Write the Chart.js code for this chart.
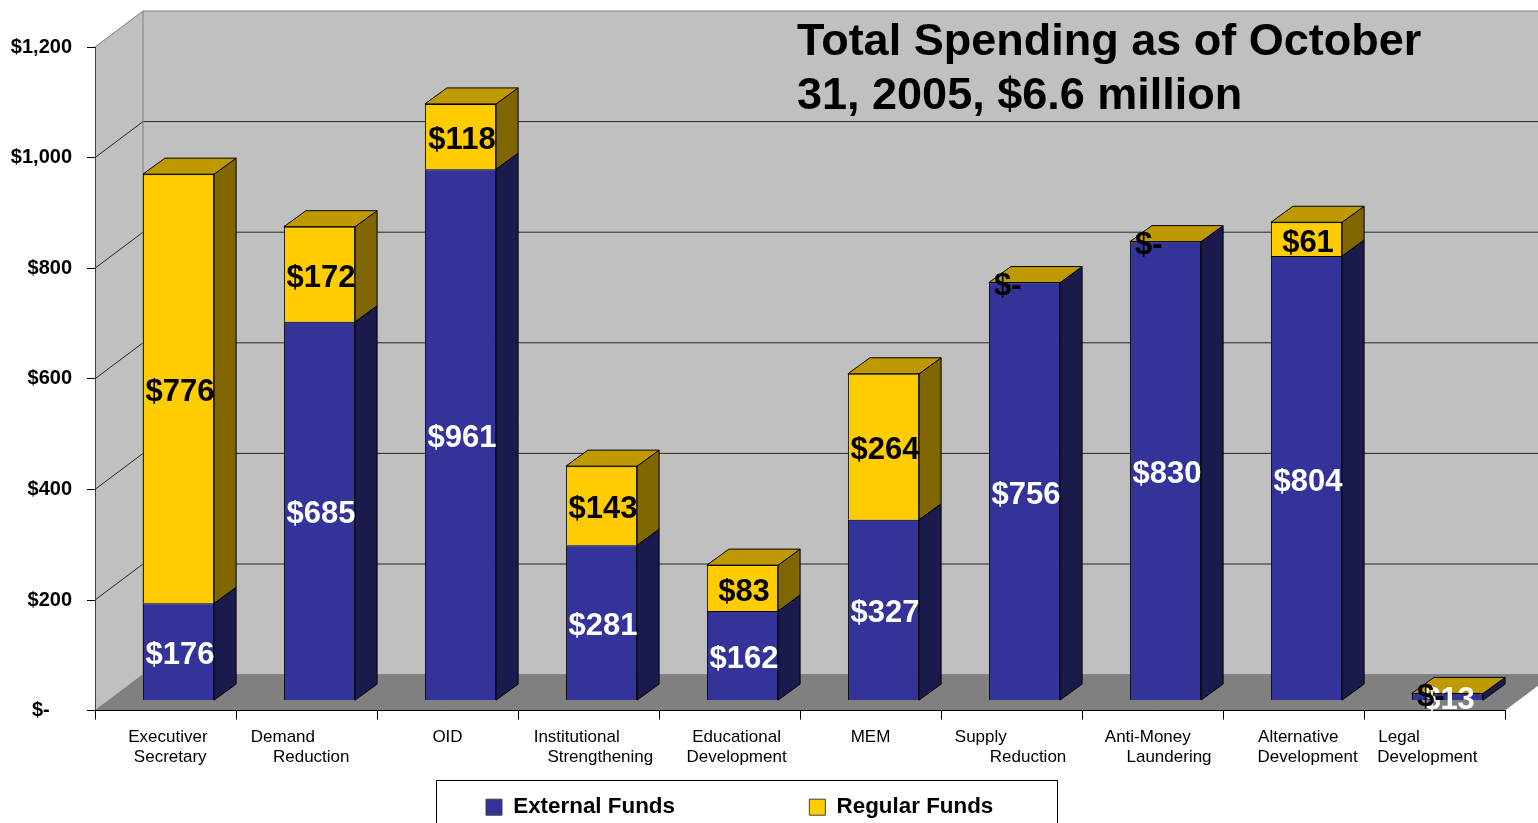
<!DOCTYPE html>
<html>
<head>
<meta charset="utf-8">
<title>Total Spending</title>
<script src="https://cdn.jsdelivr.net/npm/chart.js@4/dist/chart.umd.min.js"></script>
<style>
  html, body { margin: 0; padding: 0; background: #fff; overflow: hidden; }
  canvas { display: block; }
</style>
</head>
<body>
<canvas id="chart" width="1538" height="823"></canvas>
<script>
// no-break spaces push the label lines off centre like in the original
const sp = n => "\u00a0".repeat(n);

const categories = [
  [sp(1) + "Executiver", sp(2) + "Secretary"],
  ["Demand" + sp(10), sp(2) + "Reduction"],
  ["OID"],
  ["Institutional" + sp(5), sp(5) + "Strengthening"],
  [sp(3) + "Educational", sp(3) + "Development"],
  ["MEM"],
  ["Supply" + sp(13), sp(7) + "Reduction"],
  ["Anti-Money" + sp(2), sp(7) + "Laundering"],
  [sp(2) + "Alternative", sp(6) + "Development"],
  ["Legal" + sp(15), "Development" + sp(3)]
];
const externalFunds = [176, 685, 961, 281, 162, 327, 756, 830, 804, 13];
const regularFunds = [776, 172, 118, 143, 83, 264, 0, 0, 61, 0];
const yTickLabels = {
  0: "$-" + sp(4), 200: "$200", 400: "$400", 600: "$600",
  800: "$800", 1000: "$1,000", 1200: "$1,200"
};
const titleLines = ["Total Spending as of October", "31, 2005, $6.6 million"];

const FONT = '"Liberation Sans", Arial, sans-serif';
// bars sit part way into the box, the walls at the back of it
const barShift = { x: 13, y: -10 };
const barDepth = { x: 22, y: -16 };
const wallDepth = { x: 48, y: -36 };

const faces = [
  { side: "#1a1a4d", top: "#262673" },
  { side: "#806600", top: "#bf9900" }
];

function poly(ctx, pts, fill, stroke) {
  ctx.beginPath();
  pts.forEach((p, i) => i ? ctx.lineTo(p[0], p[1]) : ctx.moveTo(p[0], p[1]));
  ctx.closePath();
  ctx.fillStyle = fill;
  ctx.fill();
  if (stroke) {
    ctx.strokeStyle = stroke;
    ctx.lineWidth = 1;
    ctx.stroke();
  }
}

const box3d = {
  id: "box3d",
  afterLayout(chart) {
    chart.legend.left = 476;
    chart.legend.top = 786;
  },
  beforeDraw(chart) {
    const ctx = chart.ctx;
    const a = chart.chartArea;
    const y = chart.scales.y;
    const dx = wallDepth.x, dy = wallDepth.y;
    const backLeft = a.left + dx;
    const backRight = a.right + dx;

    ctx.save();
    ctx.fillStyle = "#fff";
    ctx.fillRect(0, 0, chart.width, chart.height);

    // walls and floor
    poly(ctx, [[a.left, a.top], [backLeft, a.top + dy], [backLeft, a.bottom + dy], [a.left, a.bottom]], "#c0c0c0");
    poly(ctx, [[backLeft, a.top + dy], [backRight, a.top + dy], [backRight, a.bottom + dy], [backLeft, a.bottom + dy]], "#c0c0c0");
    poly(ctx, [[a.left, a.bottom], [backLeft, a.bottom + dy], [backRight, a.bottom + dy], [a.right, a.bottom]], "#808080");

    // grid lines run along the side wall and then the back wall
    y.ticks.forEach(t => {
      const py = y.getPixelForValue(t.value);
      const edge = t.value === 1200 || t.value === 0;
      ctx.strokeStyle = edge ? "#808080" : "#262626";
      ctx.lineWidth = 1;
      ctx.beginPath();
      ctx.moveTo(a.left, py);
      ctx.lineTo(backLeft, py + dy);
      ctx.lineTo(backRight, py + dy);
      ctx.stroke();
    });
    ctx.strokeStyle = "#808080";
    ctx.beginPath();
    ctx.moveTo(backLeft, a.top + dy);
    ctx.lineTo(backLeft, a.bottom + dy);
    ctx.stroke();

    // legend frame, runs off the bottom of the picture
    ctx.strokeStyle = "#000";
    ctx.strokeRect(436.5, 780.5, 621, 60);

    // title
    ctx.fillStyle = "#000";
    ctx.font = "bold 45px " + FONT;
    ctx.textAlign = "left";
    ctx.textBaseline = "middle";
    titleLines.forEach((line, i) => ctx.fillText(line, 797, 43 + i * 54));
    ctx.restore();
  },
  beforeDatasetsDraw(chart) {
    const ctx = chart.ctx;
    const metas = [chart.getDatasetMeta(0), chart.getDatasetMeta(1)];
    ctx.save();
    ctx.translate(barShift.x, barShift.y);
    const bx = barDepth.x, by = barDepth.y;
    categories.forEach((c, i) => {
      metas.forEach((meta, d) => {
        const el = meta.data[i];
        const r = el.x + el.width / 2;
        if (el.base - el.y > 0.5) {
          poly(ctx, [[r, el.y], [r + bx, el.y + by], [r + bx, el.base + by], [r, el.base]], faces[d].side, "#000");
        }
      });
      const top = metas[1].data[i];
      const l = top.x - top.width / 2, r = top.x + top.width / 2;
      poly(ctx, [[l, top.y], [l + bx, top.y + by], [r + bx, top.y + by], [r, top.y]], faces[1].top, "#000");
    });
    // the bars themselves are drawn shifted too; restored after the datasets
  },
  afterDatasetsDraw(chart) {
    const ctx = chart.ctx;
    ctx.font = "bold 31px " + FONT;
    ctx.textBaseline = "middle";
    [externalFunds, regularFunds].forEach((values, d) => {
      const meta = chart.getDatasetMeta(d);
      ctx.fillStyle = d === 0 ? "#fff" : "#000";
      values.forEach((v, i) => {
        const el = meta.data[i];
        if (v === 0) {
          ctx.textAlign = "left";
          ctx.fillText("$-", el.x - el.width / 2 + 5, el.y + 4);
        } else {
          ctx.textAlign = "center";
          ctx.fillText("$" + v, el.x + 1.5, (el.y + el.base) / 2 + 4);
        }
      });
    });
    ctx.restore();
  }
};

new Chart(document.getElementById("chart"), {
  type: "bar",
  data: {
    labels: categories,
    datasets: [
      { label: "External Funds", data: externalFunds, backgroundColor: "#333399", borderColor: "#000", borderWidth: 1 },
      { label: "Regular Funds", data: regularFunds, backgroundColor: "#ffcc00", borderColor: "#000", borderWidth: 1 }
    ]
  },
  plugins: [box3d],
  options: {
    responsive: false,
    animation: false,
    devicePixelRatio: 1,
    barPercentage: 0.505,
    categoryPercentage: 1,
    layout: { padding: { top: 47, right: 33, left: 0, bottom: 0 } },
    plugins: {
      title: { display: false },
      tooltip: { enabled: false },
      legend: {
        position: "bottom",
        align: "start",
        labels: {
          color: "#000",
          boxWidth: 16,
          boxHeight: 16,
          padding: 10,
          font: { family: FONT, size: 22.4, weight: "bold" },
          // trailing spaces keep the two entries as far apart as the original
          generateLabels(chart) {
            return Chart.defaults.plugins.legend.labels.generateLabels(chart).map((item, i) => {
              item.text = i === 0 ? item.text + sp(20) : item.text;
              item.lineWidth = 1;
              item.strokeStyle = "#404040";
              return item;
            });
          }
        }
      }
    },
    scales: {
      x: {
        stacked: true,
        offset: true,
        afterFit(s) { s.height = 70; },
        border: { display: true, color: "#000" },
        grid: { offset: true, drawOnChartArea: false, drawTicks: true, tickLength: 9, color: "#000" },
        ticks: {
          autoSkip: false,
          maxRotation: 0,
          color: "#000",
          padding: 8,
          font: { family: FONT, size: 17, lineHeight: 1.18 }
        }
      },
      y: {
        stacked: true,
        min: 0,
        max: 1200,
        afterFit(s) { s.width = 95; },
        border: { display: true, color: "#404040" },
        grid: { drawOnChartArea: false, tickLength: 8, color: "#000" },
        ticks: {
          stepSize: 200,
          color: "#000",
          padding: 15,
          font: { family: FONT, size: 20, weight: "bold" },
          callback: v => yTickLabels[v]
        }
      }
    }
  }
});
</script>
</body>
</html>
